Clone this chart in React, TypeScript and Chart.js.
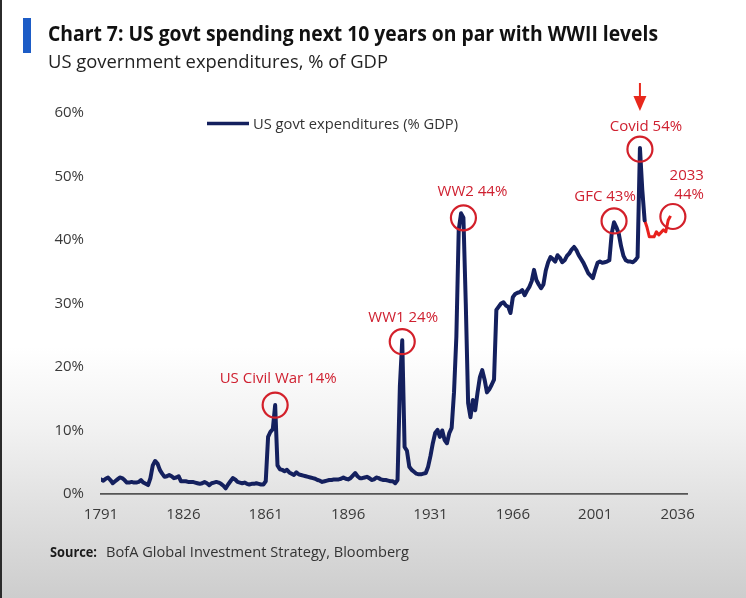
import React, { useEffect, useRef } from "react";
import { Chart, registerables } from "chart.js";

Chart.register(...registerables);

// ---------- DATA ----------
const years: number[] = [
  1791, 1792, 1793, 1794, 1795, 1796, 1797, 1798, 1799, 1800,
  1801, 1802, 1803, 1804, 1805, 1806, 1807, 1808, 1809, 1810,
  1811, 1812, 1813, 1814, 1815, 1816, 1817, 1818, 1819, 1820,
  1821, 1822, 1823, 1824, 1825, 1826, 1827, 1828, 1829, 1830,
  1831, 1832, 1833, 1834, 1835, 1836, 1837, 1838, 1839, 1840,
  1841, 1842, 1843, 1844, 1845, 1846, 1847, 1848, 1849, 1850,
  1851, 1852, 1853, 1854, 1855, 1856, 1857, 1858, 1859, 1860,
  1861, 1862, 1863, 1864, 1865, 1866, 1867, 1868, 1869, 1870,
  1871, 1872, 1873, 1874, 1875, 1876, 1877, 1878, 1879, 1880,
  1881, 1882, 1883, 1884, 1885, 1886, 1887, 1888, 1889, 1890,
  1891, 1892, 1893, 1894, 1895, 1896, 1897, 1898, 1899, 1900,
  1901, 1902, 1903, 1904, 1905, 1906, 1907, 1908, 1909, 1910,
  1911, 1912, 1913, 1914, 1915, 1916, 1917, 1918, 1919, 1920,
  1921, 1922, 1923, 1924, 1925, 1926, 1927, 1928, 1929, 1930,
  1931, 1932, 1933, 1934, 1935, 1936, 1937, 1938, 1939, 1940,
  1941, 1942, 1943, 1944, 1945, 1946, 1947, 1948, 1949, 1950,
  1951, 1952, 1953, 1954, 1955, 1956, 1957, 1958, 1959, 1960,
  1961, 1962, 1963, 1964, 1965, 1966, 1967, 1968, 1969, 1970,
  1971, 1972, 1973, 1974, 1975, 1976, 1977, 1978, 1979, 1980,
  1981, 1982, 1983, 1984, 1985, 1986, 1987, 1988, 1989, 1990,
  1991, 1992, 1993, 1994, 1995, 1996, 1997, 1998, 1999, 2000,
  2001, 2002, 2003, 2004, 2005, 2006, 2007, 2008, 2009, 2010,
  2011, 2012, 2013, 2014, 2015, 2016, 2017, 2018, 2019, 2020,
  2021, 2022,
];

const spending: number[] = [
  2.3, 2.1, 2.4, 2.6, 2.2, 1.7, 2.0, 2.3, 2.6, 2.5,
  2.2, 1.8, 1.8, 1.9, 1.8, 1.8, 1.9, 2.2, 1.8, 1.6,
  1.4, 2.5, 4.5, 5.2, 4.8, 3.8, 3.2, 2.7, 2.8, 3.0,
  2.8, 2.5, 2.6, 2.8, 2.0, 2.0, 2.0, 1.9, 1.9, 1.9,
  1.8, 1.7, 1.6, 1.7, 1.9, 1.7, 1.4, 1.7, 1.8, 1.9,
  1.8, 1.6, 1.3, 0.9, 1.5, 2.0, 2.5, 2.3, 1.9, 1.8,
  1.7, 1.8, 1.6, 1.5, 1.6, 1.6, 1.7, 1.6, 1.5, 1.5,
  2.0, 9.0, 9.8, 10.2, 14.0, 4.5, 3.9, 3.8, 3.6, 3.8,
  3.4, 3.2, 3.0, 3.4, 3.1, 3.0, 2.9, 2.8, 2.7, 2.6,
  2.5, 2.4, 2.2, 2.1, 1.9, 2.0, 2.1, 2.2, 2.2, 2.3,
  2.3, 2.3, 2.4, 2.6, 2.4, 2.3, 2.5, 2.9, 3.3, 2.8,
  2.5, 2.5, 2.6, 2.7, 2.5, 2.2, 2.3, 2.6, 2.5, 2.3,
  2.2, 2.2, 2.1, 2.0, 2.0, 1.7, 2.2, 17.0, 24.2, 7.4,
  6.8, 4.3, 3.8, 3.5, 3.2, 3.1, 3.1, 3.2, 3.3, 4.3,
  6.0, 8.0, 9.6, 10.1, 9.0, 10.0, 8.5, 8.0, 9.6, 10.4,
  16.0, 24.8, 41.6, 44.2, 43.5, 30.0, 14.3, 12.1, 14.8, 13.2,
  16.0, 18.4, 19.5, 18.0, 16.0, 16.5, 17.2, 18.0, 29.0, 29.5,
  30.0, 30.2, 29.7, 29.5, 28.5, 31.0, 31.5, 31.7, 31.8, 32.1,
  31.3, 32.0, 32.6, 33.5, 35.3, 33.7, 33.0, 32.4, 33.0, 35.2,
  36.5, 37.3, 37.0, 36.6, 37.6, 37.2, 36.5, 36.8, 37.5, 37.9,
  38.5, 38.9, 38.4, 37.6, 37.0, 36.4, 35.6, 34.8, 34.4, 34.0,
  35.3, 36.4, 36.6, 36.4, 36.5, 36.6, 36.8, 41.0, 42.8, 42.0,
  41.0, 39.0, 37.5, 36.8, 36.6, 36.6, 36.5, 36.8, 37.3, 54.5,
  47.9, 43.1,
];

const forecastYears: number[] = [
  2022, 2023, 2024, 2025, 2026, 2027, 2028, 2029, 2030, 2031, 2032, 2033,
];
const forecastSpending: number[] = [
  43.1, 42.0, 40.5, 40.5, 40.5, 41.3, 40.8, 41.2, 41.6, 41.3, 43.1, 43.8,
];

const xTickYears: number[] = [1791, 1826, 1861, 1896, 1931, 1966, 2001, 2036];
const yTickValues: number[] = [0, 10, 20, 30, 40, 50, 60];

const seriesLabel = "US govt expenditures (% GDP)";
const titleText = "Chart 7: US govt spending next 10 years on par with WWII levels";
const subtitleText = "US government expenditures, % of GDP";
const sourceBold = "Source:";
const sourceText = "BofA Global Investment Strategy, Bloomberg";

// annotation anchors (data coordinates) and their labels
const annotationYears: number[] = [1865, 1919, 1945, 2009, 2020, 2034];
const annotationValues: number[] = [14, 24, 43.5, 43, 54.3, 43.7];
const annotationLabels: string[][] = [
  ["US Civil War 14%"],
  ["WW1 24%"],
  ["WW2 44%"],
  ["GFC 43%"],
  ["Covid 54%"],
  ["2033", "44%"],
];

// label placement (pixel offsets from the circle centre) – styling only
const labelPlacement = [
  { dx: 3, dy: [-26], align: "center" },
  { dx: 1, dy: [-24], align: "center" },
  { dx: 9, dy: [-26], align: "center" },
  { dx: -9, dy: [-24], align: "center" },
  { dx: 6, dy: [-22], align: "center" },
  { dx: 31, dy: [-41, -22], align: "right" },
];

const NAVY = "#14205e";
const RED_LINE = "#e8211d";
const RED_TEXT = "#cf2030";
const FONT = '"Open Sans", "Noto Sans", sans-serif';

function fitText(
  ctx: CanvasRenderingContext2D,
  text: string,
  x: number,
  y: number,
  targetWidth: number
) {
  const w = ctx.measureText(text).width;
  const sx = w > 0 ? targetWidth / w : 1;
  ctx.save();
  ctx.translate(x, y);
  ctx.scale(sx, 1);
  ctx.fillText(text, 0, 0);
  ctx.restore();
}

const decorPlugin = {
  id: "decor",
  beforeDraw(chart: any) {
    const { ctx, width, height } = chart;
    ctx.save();
    const g = ctx.createLinearGradient(0, 0, 0, height);
    g.addColorStop(0, "#ffffff");
    g.addColorStop(0.58, "#ffffff");
    g.addColorStop(0.72, "#f1f1f1");
    g.addColorStop(0.85, "#e0e0e0");
    g.addColorStop(1, "#cdcdcd");
    ctx.fillStyle = g;
    ctx.fillRect(0, 0, width, height);
    // left frame edge
    ctx.fillStyle = "#2b2b2b";
    ctx.fillRect(0, 0, 2, height);
    // title bar
    ctx.fillStyle = "#1d5cc6";
    ctx.fillRect(23, 18, 8, 35);
    // title
    ctx.fillStyle = "#111111";
    ctx.textBaseline = "alphabetic";
    ctx.textAlign = "left";
    ctx.font = `bold 22px ${FONT}`;
    fitText(ctx, titleText, 48, 41, 610);
    ctx.fillStyle = "#222222";
    ctx.font = `19px ${FONT}`;
    fitText(ctx, subtitleText, 48, 68, 340);
    // source
    ctx.fillStyle = "#1a1a1a";
    ctx.font = `bold 15px ${FONT}`;
    fitText(ctx, sourceBold, 50, 557, 47);
    ctx.fillStyle = "#333333";
    ctx.font = `15px ${FONT}`;
    fitText(ctx, sourceText, 106, 557, 303);
    ctx.restore();
  },
  afterDatasetsDraw(chart: any) {
    const { ctx } = chart;
    const xs = chart.scales.x;
    const ys = chart.scales.y;
    ctx.save();
    // legend
    ctx.strokeStyle = NAVY;
    ctx.lineWidth = 3.5;
    ctx.beginPath();
    ctx.moveTo(207, 123.5);
    ctx.lineTo(249, 123.5);
    ctx.stroke();
    ctx.fillStyle = "#333333";
    ctx.font = `15px ${FONT}`;
    ctx.textBaseline = "middle";
    ctx.textAlign = "left";
    fitText(ctx, seriesLabel, 253, 125, 205);

    // annotations
    for (let i = 0; i < annotationYears.length; i++) {
      const cx = xs.getPixelForValue(annotationYears[i]);
      const cy = ys.getPixelForValue(annotationValues[i]);
      ctx.strokeStyle = "#d3202a";
      ctx.lineWidth = 2.2;
      ctx.beginPath();
      ctx.arc(cx, cy, 12.5, 0, Math.PI * 2);
      ctx.stroke();
      const p = labelPlacement[i];
      ctx.fillStyle = RED_TEXT;
      ctx.font = `15px ${FONT}`;
      ctx.textBaseline = "middle";
      ctx.textAlign = p.align as CanvasTextAlign;
      annotationLabels[i].forEach((t, j) => {
        ctx.fillText(t, cx + p.dx, cy + p.dy[j]);
      });
    }

    // arrow pointing at the Covid spike
    const ax = xs.getPixelForValue(annotationYears[4]);
    ctx.strokeStyle = "#e8281c";
    ctx.fillStyle = "#e8281c";
    ctx.lineWidth = 2;
    ctx.beginPath();
    ctx.moveTo(ax, 83);
    ctx.lineTo(ax, 99);
    ctx.stroke();
    ctx.beginPath();
    ctx.moveTo(ax - 6.5, 96);
    ctx.lineTo(ax + 6.5, 96);
    ctx.lineTo(ax, 111);
    ctx.closePath();
    ctx.fill();
    ctx.restore();
  },
};

export default function App() {
  const canvasRef = useRef<HTMLCanvasElement | null>(null);

  useEffect(() => {
    const canvas = canvasRef.current;
    if (!canvas) return;
    const chart = new Chart(canvas, {
      type: "line",
      data: {
        datasets: [
          {
            label: seriesLabel,
            data: years.map((y, i) => ({ x: y, y: spending[i] })),
            borderColor: NAVY,
            backgroundColor: NAVY,
            borderWidth: 4,
            pointRadius: 0,
            tension: 0,
            borderJoinStyle: "round",
            borderCapStyle: "round",
          },
          {
            label: "Forecast",
            data: forecastYears.map((y, i) => ({ x: y, y: forecastSpending[i] })),
            borderColor: RED_LINE,
            backgroundColor: RED_LINE,
            borderWidth: 3,
            pointRadius: 0,
            tension: 0,
            borderJoinStyle: "round",
          },
        ],
      },
      options: {
        responsive: false,
        animation: false,
        layout: { padding: { top: 113, left: 0, right: 59, bottom: 0 } },
        plugins: {
          legend: { display: false },
          tooltip: { enabled: false },
          title: { display: false },
        },
        scales: {
          x: {
            type: "linear",
            min: 1791,
            max: 2040,
            grid: { display: false, drawTicks: false },
            border: { display: true, color: "#555555", width: 1.8 },
            afterBuildTicks: (scale: any) => {
              scale.ticks = xTickYears.map((v) => ({ value: v }));
            },
            afterFit: (scale: any) => {
              scale.height = 104;
            },
            ticks: {
              autoSkip: false,
              maxRotation: 0,
              padding: 12,
              color: "#3a3a3a",
              font: { family: FONT, size: 15 },
              callback: (v: any) => String(v),
            },
          },
          y: {
            type: "linear",
            min: 0,
            max: 60,
            grid: { display: false, drawTicks: false },
            border: { display: false },
            afterBuildTicks: (scale: any) => {
              scale.ticks = yTickValues.map((v) => ({ value: v }));
            },
            afterFit: (scale: any) => {
              scale.width = 101;
            },
            ticks: {
              padding: 17,
              color: "#3a3a3a",
              font: { family: FONT, size: 15 },
              callback: (v: any) => `${v}%`,
            },
          },
        },
      },
      plugins: [decorPlugin],
    });
    return () => chart.destroy();
  }, []);

  return (
    <div style={{ position: "fixed", left: 0, top: 0, width: 746, height: 598 }}>
      <canvas ref={canvasRef} width={746} height={598} style={{ display: "block" }} />
    </div>
  );
}
